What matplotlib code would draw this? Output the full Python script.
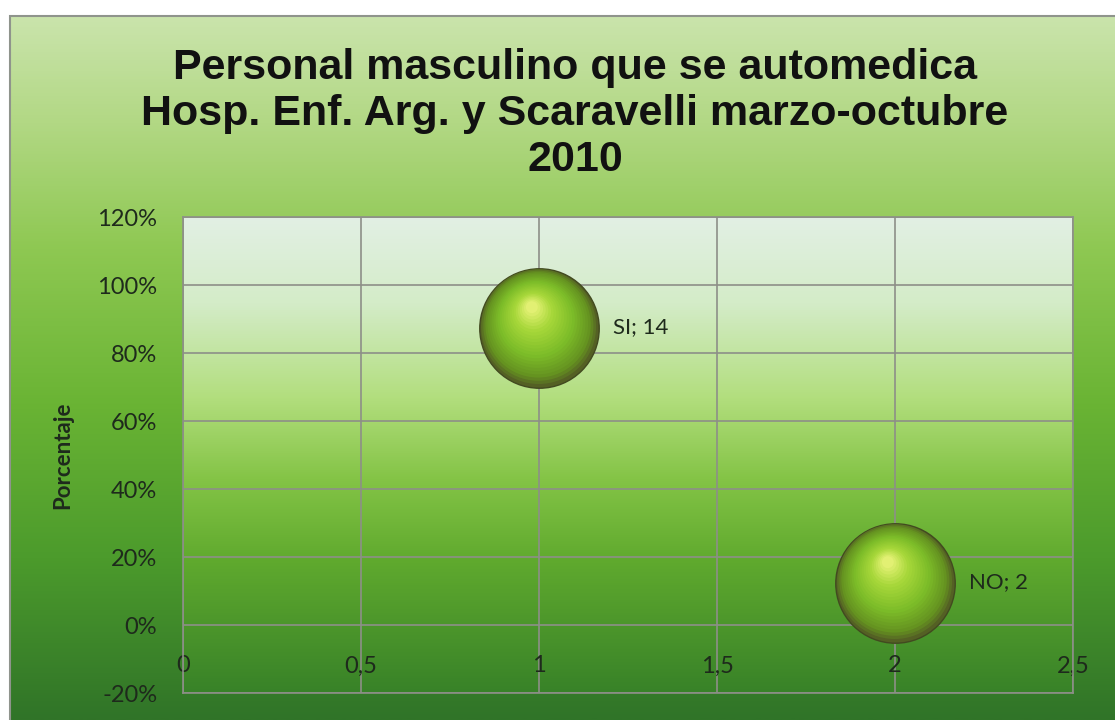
import numpy as np
import matplotlib
matplotlib.use("Agg")
import matplotlib.pyplot as plt
from matplotlib.colors import LinearSegmentedColormap
from matplotlib.transforms import offset_copy
from matplotlib.patches import Rectangle

# ---------------- data ----------------
categories = ["SI", "NO"]
x_values = [1, 2]
percentages = [0.875, 0.125]
counts = [14, 2]
title_lines = ["Personal masculino que se automedica",
               "Hosp. Enf. Arg. y Scaravelli marzo-octubre",
               "2010"]
y_label = "Porcentaje"
x_ticks = [0, 0.5, 1, 1.5, 2, 2.5]
x_tick_labels = ["0", "0,5", "1", "1,5", "2", "2,5"]
y_ticks = [-0.2, 0.0, 0.2, 0.4, 0.6, 0.8, 1.0, 1.2]
y_tick_labels = ["-20%", "0%", "20%", "40%", "60%", "80%", "100%", "120%"]

# ---------------- figure ----------------
W, H = 1115, 720
fig = plt.figure(figsize=(W / 100, H / 100), dpi=100)
fig.patch.set_facecolor("white")

def rgb(*c):
    return tuple(v / 255 for v in c)

# chart-area background (vertical gradient)
fig_stops = [(0.0, rgb(202, 228, 172)), (0.15, rgb(178, 216, 132)),
             (0.33, rgb(142, 200, 82)), (0.55, rgb(106, 180, 52)),
             (0.77, rgb(76, 155, 44)), (1.0, rgb(48, 116, 40))]
cmap_fig = LinearSegmentedColormap.from_list("figbg", fig_stops)
bg = fig.add_axes([10 / W, 0, 1 - 10 / W, 1 - 16 / H], zorder=0)
grad = np.linspace(0, 1, 512).reshape(-1, 1)
bg.imshow(grad, aspect="auto", cmap=cmap_fig, extent=[0, 1, 0, 1], origin="upper")
bg.set_axis_off()
fig.patches.append(Rectangle((10 / W, -0.01), 1.0, 1 - 16 / H + 0.01,
                             transform=fig.transFigure, fill=False,
                             edgecolor="#8f948c", lw=1.5, zorder=0.5))

# plot area
ax = fig.add_axes([183 / W, 1 - 693 / H, (1073 - 183) / W, (693 - 217) / H], zorder=1)
plot_stops = [(0.0, rgb(226, 240, 228)), (0.18, rgb(212, 236, 200)),
              (0.38, rgb(178, 222, 125)), (0.55, rgb(132, 196, 70)),
              (0.72, rgb(96, 170, 46)), (1.0, rgb(56, 130, 40))]
cmap_plot = LinearSegmentedColormap.from_list("plotbg", plot_stops)
ax.imshow(grad, aspect="auto", cmap=cmap_plot, extent=[0, 1, 0, 1],
          origin="upper", transform=ax.transAxes, zorder=-10)

ax.set_xlim(x_ticks[0], x_ticks[-1])
ax.set_ylim(y_ticks[0], y_ticks[-1])
ax.set_autoscale_on(False)
ax.set_xticks(x_ticks)
ax.set_xticklabels(x_tick_labels)
ax.set_yticks(y_ticks)
ax.set_yticklabels(y_tick_labels)

grid_col = "#8d8f88"
ax.grid(True, color=grid_col, lw=1.2)
ax.set_axisbelow(True)
for sp in ax.spines.values():
    sp.set_color(grid_col)
    sp.set_linewidth(1.2)

txt_col = "#1e2a1c"
tick_family = ["Lato", "DejaVu Sans"]
ax.tick_params(axis="y", length=0, pad=18.5, labelcolor=txt_col)
ax.tick_params(axis="x", length=0, pad=-27, labelcolor=txt_col)
for lab in ax.get_xticklabels() + ax.get_yticklabels():
    lab.set_fontfamily(tick_family)
    lab.set_fontsize(17)

# ---------------- bubbles (layered to look like spheres) ----------------
R = 43.0  # radius in points
n_layers = 24
col_stops = [(0.0, rgb(84, 96, 36)), (0.12, rgb(100, 146, 32)),
             (0.40, rgb(124, 188, 40)), (0.75, rgb(168, 216, 58)),
             (1.0, rgb(226, 240, 115))]
cmap_sph = LinearSegmentedColormap.from_list("sph", col_stops)
hx, hy = -0.12, 0.34
for k in range(n_layers):
    t = k / (n_layers - 1)
    r = R * (1 - 0.9 * t)
    trans = offset_copy(ax.transData, fig=fig, x=hx * R * t, y=hy * R * t, units="points")
    ax.scatter(x_values, percentages, s=(2 * r) ** 2, color=cmap_sph(t),
               edgecolors=rgb(66, 74, 32) if k == 0 else "none",
               linewidths=1.0, transform=trans, zorder=3 + k * 0.01)

for xv, yv, cat, cnt in zip(x_values, percentages, categories, counts):
    ax.annotate(f"{cat}; {cnt}", (xv, yv), xytext=(53, 0), textcoords="offset points",
                ha="left", va="center", fontsize=16, color=txt_col,
                family=tick_family, zorder=5)

# ---------------- texts ----------------
fig.text(575 / W, 1 - 114 / H, "\n".join(title_lines), ha="center", va="center",
         fontsize=31, fontweight="bold", family=["Liberation Sans", "DejaVu Sans"],
         color="#111111", linespacing=1.2, zorder=5)
fig.text(63 / W, 1 - 455 / H, y_label, rotation=90, ha="center", va="center",
         fontsize=16, fontweight="bold", family=tick_family,
         color=txt_col, zorder=5)

fig.savefig("out.png", dpi=100)
